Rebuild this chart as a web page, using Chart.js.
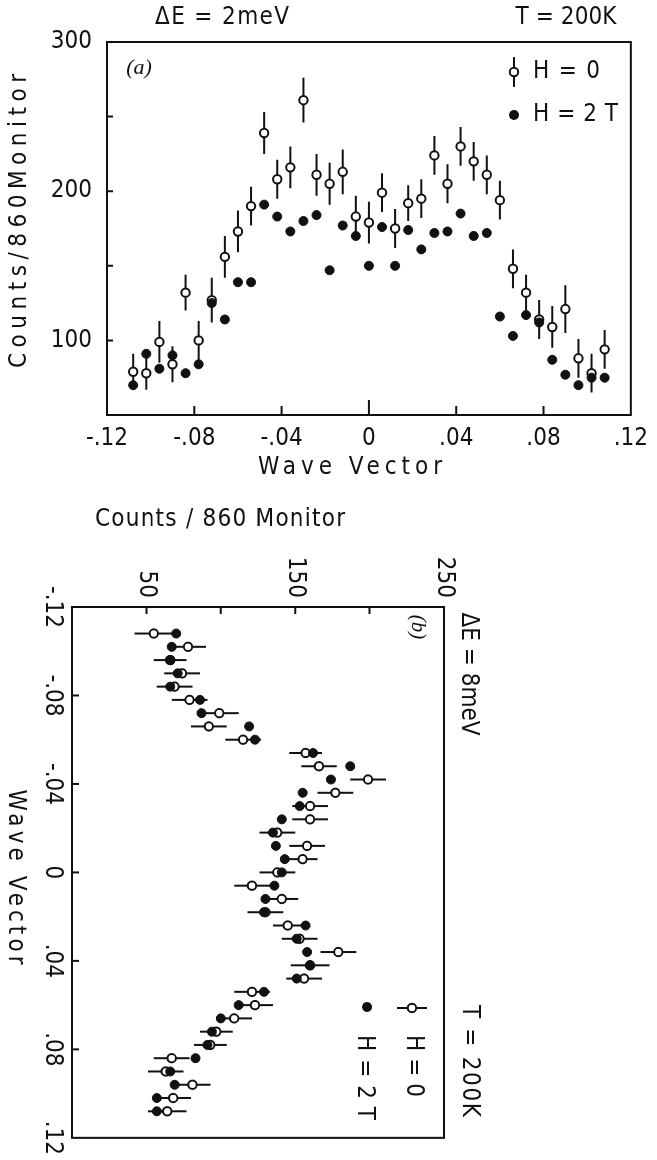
<!DOCTYPE html>
<html>
<head>
<meta charset="utf-8">
<script src="https://cdn.jsdelivr.net/npm/chart.js@4.4.1/dist/chart.umd.min.js"></script>
<style>
  html, body { margin: 0; padding: 0; background: #fff; }
  #wrap { position: relative; width: 657px; height: 1160px; overflow: hidden; background: #fff; }
  #boxA { position: absolute; left: 0; top: 0; width: 657px; height: 490px; }
  /* panel (b) is drawn upright and turned a quarter clockwise */
  #boxB { position: absolute; left: 0; top: 490px; width: 670px; height: 500px;
          transform-origin: 0 0; transform: translate(500px, 0) rotate(90deg); }
  canvas { display: block; }
</style>
</head>
<body>
<div id="wrap">
  <div id="boxA"><canvas id="chartA" width="657" height="490" style="width:657px;height:490px"></canvas></div>
  <div id="boxB"><canvas id="chartB" width="670" height="500" style="width:670px;height:500px"></canvas></div>
</div>
<script>
// wave vector of every scan point (both panels)
const waveVector = [-0.108, -0.102, -0.096, -0.090, -0.084, -0.078, -0.072, -0.066, -0.060, -0.054,
                    -0.048, -0.042, -0.036, -0.030, -0.024, -0.018, -0.012, -0.006, 0,
                    0.006, 0.012, 0.018, 0.024, 0.030, 0.036, 0.042, 0.048, 0.054, 0.060,
                    0.066, 0.072, 0.078, 0.084, 0.090, 0.096, 0.102, 0.108];

// (a) dE = 2 meV
const countsA_H0 = [79, 78, 99, 84, 132, 100, 127, 156, 173, 190,
                    239, 208, 216, 261, 211, 205, 213, 183, 179,
                    199, 175, 192, 195, 224, 205, 230, 220, 211, 194,
                    148, 132, 114, 109, 121, 88, 78, 94];
const errA_H0 =    [12, 11, 14, 12, 12, 13, 15, 14, 14, 13,
                    14, 13, 14, 15, 14, 14, 15, 14, 14,
                    13, 13, 12, 13, 13, 13, 13, 13, 13, 13,
                    13, 12, 13, 14, 16, 13, 13, 13];
const countsA_H2 = [70, 91, 81, 90, 78, 84, 125, 114, 139, 139,
                    191, 183, 173, 180, 184, 147, 177, 170, 150,
                    176, 150, 174, 161, 172, 173, 185, 170, 172, 116,
                    103, 117, 112, 87, 77, 70, 75, 75];

// (b) dE = 8 meV
const countsB_H0 = [55, 78, 66, 74, 69, 79, 99, 92, 115, 157,
                    166, 199, 177, 160, 160, 138, 158, 155, 138,
                    121, 141, 130, 145, 153, 179, 160, 156, 121, 123,
                    109, 97, 93, 67, 63, 81, 68, 64];
const errB_H0 =    [13, 12, 11, 12, 12, 12, 13, 12, 12, 11,
                    12, 12, 12, 12, 12, 12, 12, 10, 12,
                    12, 11, 12, 10, 12, 12, 13, 12, 12, 12,
                    12, 11, 11, 12, 12, 12, 12, 13];
const countsB_H2 = [70, 67, 66, 71, 66, 86, 87, 119, 123, 162,
                    187, 174, 155, 153, 141, 135, 137, 143, 141,
                    136, 130, 129, 157, 151, 158, 160, 151, 129, 112,
                    100, 94, 91, 83, 66, 69, 57, 57];

// axes
const waveTicks = [-0.12, -0.08, -0.04, 0, 0.04, 0.08, 0.12];
const waveMarks = [-0.08, -0.04, 0, 0.04, 0.08];
const countTicksA = [50, 100, 150, 200, 250, 300];
const countLabelsA = [100, 200, 300];
const countMarksA = [100, 150, 200, 250];
const countTicksB = [0, 50, 100, 150, 200, 250];
const countLabelsB = [50, 150, 250];
const countMarksB = [50, 100, 150, 200];

const FAMILY = "'DejaVu Sans Condensed', 'DejaVu Sans', 'Liberation Sans', sans-serif";
const INK = '#111';
const FS = 24;

function fmtWave(v) {
  if (Math.abs(v) < 1e-9) return '0';
  const s = Math.abs(v).toFixed(2).replace(/^0/, '');
  return v < 0 ? '-' + s : s;
}

// text stretched to a given width with letter spacing
function drawLabel(ctx, o) {
  ctx.save();
  ctx.fillStyle = INK;
  ctx.font = (o.italic ? 'italic ' : '') + (o.size || FS) + 'px ' + (o.family || FAMILY);
  ctx.textBaseline = 'middle';
  ctx.textAlign = 'left';
  const canSpace = 'letterSpacing' in ctx;
  if (canSpace) ctx.letterSpacing = '0px';
  const natural = ctx.measureText(o.text).width;
  const n = [...o.text].length;
  let width = natural;
  ctx.translate(o.x, o.y);
  if (o.rot) ctx.rotate(o.rot * Math.PI / 180);
  if (canSpace && o.width && n > 1) {
    ctx.letterSpacing = ((o.width - natural) / (n - 1)) + 'px';
    width = o.width;
  }
  ctx.fillText(o.text, -width / 2, 0);
  ctx.restore();
}

function panelPlugin(cfg) {
  return {
    id: 'panel_' + cfg.name,
    beforeDatasetsDraw(chart) {
      const ctx = chart.ctx, xs = chart.scales.x, ys = chart.scales.y;
      ctx.save();
      ctx.strokeStyle = INK;
      ctx.lineWidth = 2;
      ctx.beginPath();
      cfg.counts.forEach((v, i) => {
        const px = xs.getPixelForValue(waveVector[i]);
        ctx.moveTo(px, ys.getPixelForValue(v - cfg.errors[i]));
        ctx.lineTo(px, ys.getPixelForValue(v + cfg.errors[i]));
      });
      ctx.stroke();
      ctx.restore();
    },
    afterDraw(chart) {
      const ctx = chart.ctx, a = chart.chartArea, xs = chart.scales.x, ys = chart.scales.y;
      ctx.save();
      ctx.strokeStyle = INK;
      ctx.fillStyle = INK;
      ctx.lineWidth = 2;
      ctx.strokeRect(a.left, a.top, a.right - a.left, a.bottom - a.top);

      ctx.beginPath();
      cfg.xMarks.forEach(v => {
        const px = xs.getPixelForValue(v);
        const len = (v === 0 && cfg.zeroTick) ? cfg.zeroTick : cfg.xTickLen;
        ctx.moveTo(px, a.bottom);
        ctx.lineTo(px, a.bottom - len);
      });
      cfg.yMarks.forEach(v => {
        const py = ys.getPixelForValue(v);
        ctx.moveTo(a.left, py);
        ctx.lineTo(a.left + cfg.yTickLen, py);
      });
      ctx.stroke();

      // legend symbols
      const o = cfg.legendOpen, f = cfg.legendFilled;
      ctx.beginPath();
      ctx.moveTo(o.x, o.y - 15);
      ctx.lineTo(o.x, o.y + 15);
      ctx.stroke();
      ctx.beginPath();
      ctx.arc(o.x, o.y, 4.2, 0, Math.PI * 2);
      ctx.fillStyle = '#fff';
      ctx.fill();
      ctx.stroke();
      ctx.beginPath();
      ctx.arc(f.x, f.y, 5, 0, Math.PI * 2);
      ctx.fillStyle = INK;
      ctx.fill();
      ctx.restore();

      cfg.texts.forEach(t => drawLabel(ctx, t));
    }
  };
}

function makeChart(canvasId, p) {
  const pts = arr => waveVector.map((x, i) => ({ x: x, y: arr[i] }));
  return new Chart(document.getElementById(canvasId), {
    type: 'scatter',
    data: {
      datasets: [
        { label: 'H = 2 T', data: pts(p.filled), order: 0,
          pointRadius: 4.5, pointBackgroundColor: INK, pointBorderColor: INK, pointBorderWidth: 1 },
        { label: 'H = 0', data: pts(p.open), order: 1,
          pointRadius: 4.2, pointBackgroundColor: '#fff', pointBorderColor: INK, pointBorderWidth: 2 }
      ]
    },
    options: {
      responsive: false,
      animation: false,
      devicePixelRatio: 1,
      layout: { padding: p.padding },
      plugins: { legend: { display: false }, tooltip: { enabled: false } },
      scales: {
        x: {
          type: 'linear', min: -0.12, max: 0.12,
          afterBuildTicks: s => { s.ticks = waveTicks.map(v => ({ value: v })); },
          afterFit: s => { s.height = p.xHeight; },
          grid: { display: false, drawTicks: false }, border: { display: false },
          ticks: { autoSkip: false, maxRotation: 0, padding: p.xPad, color: INK,
                   font: { family: FAMILY, size: FS }, callback: v => fmtWave(v) }
        },
        y: {
          type: 'linear', min: p.yMin, max: p.yMax,
          afterBuildTicks: s => { s.ticks = p.yTicks.map(v => ({ value: v })); },
          afterFit: s => { s.width = p.yWidth; },
          grid: { display: false, drawTicks: false }, border: { display: false },
          ticks: { autoSkip: false, padding: p.yPad, color: INK,
                   font: { family: FAMILY, size: FS },
                   callback: v => p.yLabels.includes(v) ? String(v) : '' }
        }
      }
    },
    plugins: [panelPlugin(p.decor)]
  });
}

makeChart('chartA', {
  open: countsA_H0, filled: countsA_H2,
  padding: { left: 0, right: 14, top: 42, bottom: 0 },
  xHeight: 75, yWidth: 107, xPad: 9, yPad: 15,
  yMin: 50, yMax: 300, yTicks: countTicksA, yLabels: countLabelsA,
  decor: {
    name: 'a', counts: countsA_H0, errors: errA_H0,
    xMarks: waveMarks, yMarks: countMarksA, xTickLen: 9, zeroTick: 15, yTickLen: 6,
    legendOpen: { x: 514, y: 72 }, legendFilled: { x: 514, y: 115 },
    texts: [
      { text: 'ΔE = 2meV', x: 222, y: 18, width: 134 },
      { text: 'T = 200K', x: 566, y: 18, width: 101 },
      { text: 'Counts/860Monitor', x: 20, y: 221, width: 294, rot: -90 },
      { text: 'Wave Vector', x: 350, y: 468, width: 184 },
      { text: '(a)', x: 139, y: 68, size: 22, italic: true, family: "'Liberation Serif', serif" },
      { text: 'H = 0', x: 566.5, y: 72, width: 67 },
      { text: 'H = 2 T', x: 575.5, y: 115, width: 85 }
    ]
  }
});

makeChart('chartB', {
  open: countsB_H0, filled: countsB_H2,
  padding: { left: 0, right: 17, top: 56, bottom: 0 },
  xHeight: 72, yWidth: 117, xPad: 5, yPad: 9,
  yMin: 0, yMax: 250, yTicks: countTicksB, yLabels: countLabelsB,
  decor: {
    name: 'b', counts: countsB_H0, errors: errB_H0,
    xMarks: waveMarks, yMarks: countMarksB, xTickLen: 7, zeroTick: 0, yTickLen: 7,
    legendOpen: { x: 518, y: 88 }, legendFilled: { x: 517, y: 133 },
    texts: [
      { text: 'ΔE = 8meV', x: 184, y: 32, width: 123 },
      { text: 'T = 200K', x: 571, y: 31, width: 112 },
      { text: 'Counts / 860 Monitor', x: 30, y: 280, width: 250, rot: -90 },
      { text: 'Wave Vector', x: 387, y: 485, width: 175 },
      { text: '(b)', x: 137, y: 82, size: 21, italic: true, family: "'Liberation Serif', serif" },
      { text: 'H = 0', x: 576, y: 87, width: 62 },
      { text: 'H = 2 T', x: 587.5, y: 136, width: 85 }
    ]
  }
});
</script>
</body>
</html>
